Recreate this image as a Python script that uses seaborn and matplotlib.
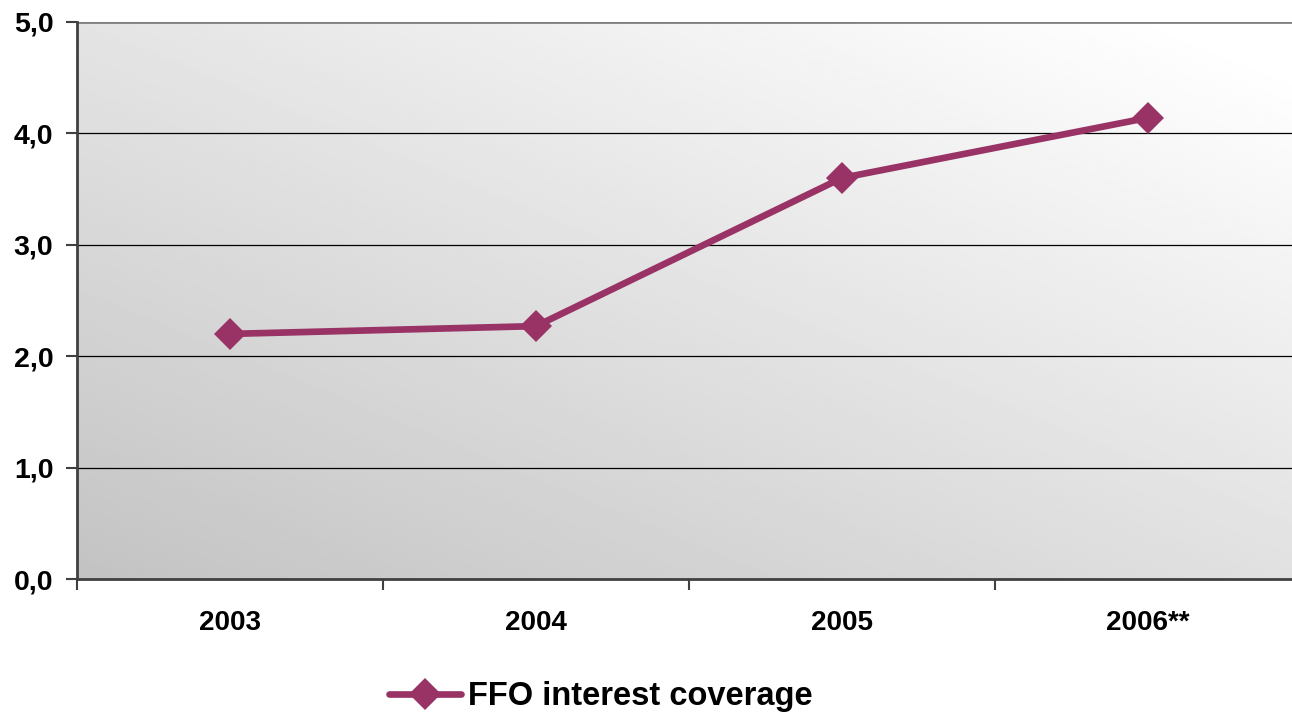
import numpy as np
import pandas as pd
import matplotlib
matplotlib.use("Agg")
import matplotlib.pyplot as plt
import seaborn as sns

# data
years = ["2003", "2004", "2005", "2006**"]
coverage = [2.20, 2.27, 3.60, 4.14]
y_ticks = [0, 1, 2, 3, 4, 5]
y_tick_labels = ["0,0", "1,0", "2,0", "3,0", "4,0", "5,0"]
series_name = "FFO interest coverage"

LINE_COLOR = "#993366"
SPINE_COLOR = "#404040"

sns.set_style("white")
plt.rcParams["font.family"] = ["Liberation Sans", "DejaVu Sans"]
plt.rcParams["font.weight"] = "bold"
plt.rcParams["text.color"] = "black"
plt.rcParams["xtick.labelcolor"] = "black"
plt.rcParams["ytick.labelcolor"] = "black"

df = pd.DataFrame({"year": years, "value": coverage})

fig = plt.figure(figsize=(12.92, 7.14), dpi=100)
ax = fig.add_axes([77 / 1292, 1 - 579 / 714, (1301 - 77) / 1292, (579 - 22) / 714])

# diagonal grey gradient background, darker lower-left, white upper-right
xf = np.linspace(0, 1, 300)
yf = np.linspace(0, 1, 200)
XX, YY = np.meshgrid(xf, yf)
shade = np.clip(195 + 30 * XX + 33 * YY, 0, 255) / 255.0
ax.imshow(shade, cmap="gray", vmin=0, vmax=1, origin="lower", extent=(0, 1, 0, 1),
          transform=ax.transAxes, aspect="auto", zorder=0, interpolation="bilinear")

sns.lineplot(data=df, x="year", y="value", ax=ax, color=LINE_COLOR, linewidth=4.8,
             marker="D", markersize=16, markeredgewidth=0, label=series_name,
             sort=False, zorder=3)

ax.set_xlim(-0.5, 3.5)
ax.set_ylim(0, 5)

# gridlines at every unit; the top one greyer
for v in y_ticks[1:-1]:
    ax.axhline(v, color="black", linewidth=0.9, zorder=1)
ax.axhline(y_ticks[-1], color="#808080", linewidth=2, zorder=1)

ax.set_yticks(y_ticks)
ax.set_yticklabels(y_tick_labels)
ax.tick_params(axis="y", length=8, width=1.5, color=SPINE_COLOR, pad=9,
               labelsize=20.5, labelcolor="black", direction="out", left=True)

# category boundaries as major ticks, labels centred on minor ticks
ax.set_xticks([-0.5, 0.5, 1.5, 2.5, 3.5])
ax.set_xticklabels([])
ax.set_xticks(range(len(years)), minor=True)
ax.set_xticklabels(years, minor=True)
ax.tick_params(axis="x", which="major", length=8, width=1.5, color=SPINE_COLOR,
               direction="out", bottom=True)
ax.tick_params(axis="x", which="minor", length=0, pad=22, labelsize=20,
               labelcolor="black")

for lab in ax.get_xticklabels(minor=True) + ax.get_yticklabels():
    lab.set_fontweight("bold")

ax.set_xlabel("")
ax.set_ylabel("")

ax.spines["right"].set_visible(False)
ax.spines["top"].set_visible(False)
ax.spines["left"].set_color(SPINE_COLOR)
ax.spines["left"].set_linewidth(2)
ax.spines["bottom"].set_color(SPINE_COLOR)
ax.spines["bottom"].set_linewidth(2)

handles, labels = ax.get_legend_handles_labels()
ax.get_legend().remove()
leg = fig.legend(handles, labels, loc="center", bbox_to_anchor=(0.465, 0.024),
                 frameon=False, handlelength=2.2, handletextpad=0.2,
                 prop={"size": 23.5, "weight": "bold"})
for t in leg.get_texts():
    t.set_color("black")

fig.savefig("out.png", dpi=100)
